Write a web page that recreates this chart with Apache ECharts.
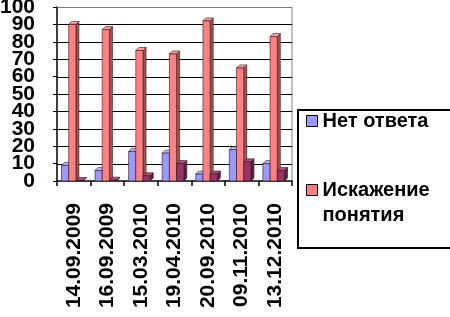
<!DOCTYPE html>
<html>
<head>
<meta charset="utf-8">
<script src="https://cdn.jsdelivr.net/npm/echarts@6/dist/echarts.min.js"></script>
<style>html,body{margin:0;padding:0;background:#fff}#c{width:450px;height:317px}</style>
</head>
<body>
<div id="c"></div>
<script>
const categories = ['14.09.2009','16.09.2009','15.03.2010','19.04.2010','20.09.2010','09.11.2010','13.12.2010'];
const noAnswer = [9, 6, 17, 16, 4, 18, 10];
const distortion = [90, 87, 75, 73, 92, 65, 83];
const thirdSeries = [0.3, 0.5, 3, 10, 4, 11, 6];
const yTicks = [0, 10, 20, 30, 40, 50, 60, 70, 80, 90, 100];
const yTicksEven = [0, 20, 40, 60, 80, 100];
const yTicksOdd = [10, 30, 50, 70, 90];

const FONT = 'Liberation Sans, Arial, sans-serif';
const D = 3; // depth offset px

function render3D(slot, front, side, top) {
  return function (params, api) {
    const idx = api.value(0), val = api.value(1);
    const bw = api.size([1, 0])[0];
    const w = bw * 0.215;
    const c = api.coord([idx, val]);
    const b = api.coord([idx, 0]);
    const x0 = c[0] - 1.5 * w + slot * w - D / 2;
    const x1 = x0 + w;
    const yt = c[1], yb = b[1];
    const st = {stroke: '#2a1a1a', lineWidth: 0.6};
    return {
      type: 'group',
      children: [
        {type: 'polygon', shape: {points: [[x1, yb], [x1 + D, yb - D], [x1 + D, yt - D], [x1, yt]]}, style: Object.assign({fill: side}, st)},
        {type: 'polygon', shape: {points: [[x0, yt], [x0 + D, yt - D], [x1 + D, yt - D], [x1, yt]]}, style: Object.assign({fill: top}, st)},
        {type: 'rect', shape: {x: x0, y: yt, width: w, height: yb - yt}, style: Object.assign({fill: front}, st)}
      ]
    };
  };
}

function renderGridLine(params, api) {
  const cs = params.coordSys;
  const y = Math.round(api.coord([0, api.value(1)])[1]) + 0.5;
  return {type: 'line', shape: {x1: cs.x, y1: y, x2: cs.x + cs.width, y2: y},
    style: {stroke: api.value(1) === 100 ? '#777' : '#000', lineWidth: 1}};
}

const labelStyle = {margin: 22, color: '#000', fontFamily: FONT, fontWeight: 'bold', fontSize: 21};

const chart = echarts.init(document.getElementById('c'), null, {renderer: 'canvas'});
chart.setOption({
  animation: false,
  backgroundColor: '#fff',
  grid: {left: 57, right: 158, top: 7, bottom: 136, outerBoundsMode: 'none'},
  xAxis: {
    type: 'category',
    data: categories,
    boundaryGap: true,
    axisLine: {lineStyle: {color: '#000', width: 1.5}},
    axisTick: {show: true, length: 5, inside: false, lineStyle: {color: '#000', width: 1.5}},
    axisLabel: {rotate: 90, margin: 22, color: '#000', fontFamily: FONT, fontWeight: 'bold', fontSize: 21, interval: 0}
  },
  yAxis: [
    {
      type: 'value', position: 'left',
      min: 0, max: 100, interval: 10,
      axisLine: {show: true, lineStyle: {color: '#000', width: 1.5}},
      axisTick: {show: true, length: 4, lineStyle: {color: '#000'}},
      axisLabel: Object.assign({
        formatter: v => yTicksEven.includes(v) ? String(v) : ''}, labelStyle),
      splitLine: {show: false}
    },
    {
      type: 'value', position: 'left', offset: 0,
      min: 0, max: 100, interval: 10,
      axisLine: {show: false}, axisTick: {show: false},
      axisLabel: Object.assign({
        formatter: v => yTicksOdd.includes(v) ? String(v) : ''}, labelStyle),
      splitLine: {show: false}
    }
  ],
  legend: {
    orient: 'vertical',
    left: 306, top: 108.5,
    padding: 0,
    itemGap: 19,
    itemWidth: 11, itemHeight: 11,
    icon: 'rect',
    data: ['Нет ответа', 'Искажение понятия'],
    itemStyle: {borderColor: '#000', borderWidth: 1},
    formatter: n => n === 'Искажение понятия' ? '\nИскажение\nпонятия' : n,
    textStyle: {color: '#000', fontFamily: FONT, fontWeight: 'bold', fontSize: 20, lineHeight: 25}
  },
  graphic: [
    {type: 'rect', shape: {x: 298, y: 110, width: 160, height: 138}, style: {fill: 'none', stroke: '#000', lineWidth: 2}, z: 0},
    {type: 'line', shape: {x1: 292, y1: 7, x2: 292, y2: 181}, style: {stroke: '#808080', lineWidth: 1}}
  ],
  series: [
    {name: 'gridlines', type: 'custom', silent: true, z: 1,
      renderItem: renderGridLine,
      encode: {x: 0, y: 1}, data: yTicks.filter(v => v > 0).map(v => [0, v])},
    {name: 'Нет ответа', type: 'custom', z: 3, itemStyle: {color: '#9999FF'},
      renderItem: render3D(0, '#9999FF', '#5c5cb0', '#b8b8ff'),
      encode: {x: 0, y: 1}, data: noAnswer.map((v, i) => [i, v])},
    {name: 'Искажение понятия', type: 'custom', z: 3, itemStyle: {color: '#FF8080'},
      renderItem: render3D(1, '#FF8080', '#a84f4f', '#ff9f9f'),
      encode: {x: 0, y: 1}, data: distortion.map((v, i) => [i, v])},
    {name: 'Другое', type: 'custom', z: 3, itemStyle: {color: '#993366'},
      renderItem: render3D(2, '#993366', '#5e1f3f', '#b34d80'),
      encode: {x: 0, y: 1}, data: thirdSeries.map((v, i) => [i, v])}
  ]
});
</script>
</body>
</html>
